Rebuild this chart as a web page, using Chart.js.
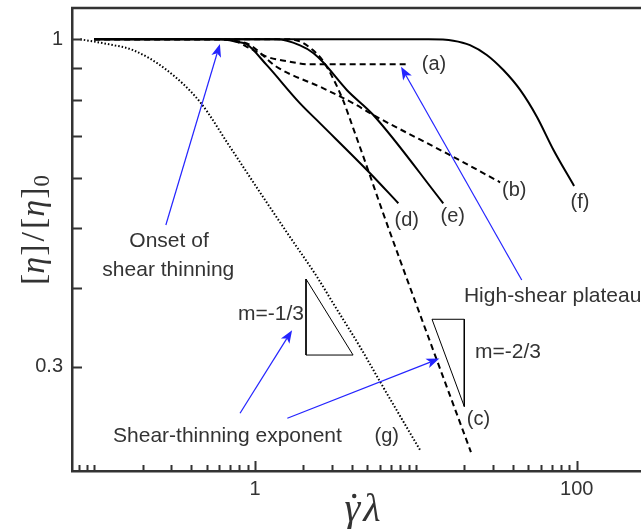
<!DOCTYPE html>
<html>
<head>
<meta charset="utf-8">
<script src="https://cdn.jsdelivr.net/npm/chart.js@4"></script>
<style>
  html, body { margin: 0; padding: 0; background: #fff; overflow: hidden; }
  canvas { display: block; }
</style>
</head>
<body>
<canvas id="chart" width="641" height="529"></canvas>
<script>
// Axis ranges (log-log, plot is cropped on the right)
const xRange = [0.0728, 251];
const yRange = [0.2043, 1.122];

// Tick marks and the few that carry a label
const xTickValues = [0.08, 0.09, 0.1, 0.2, 0.3, 0.4, 0.5, 0.6, 0.7, 0.8, 0.9, 1,
    2, 3, 4, 5, 6, 7, 8, 9, 10, 20, 30, 40, 50, 60, 70, 80, 90, 100];
const xTickLabels = { 1: '1', 100: '100' };
const yTickValues = [0.3, 0.4, 0.5, 0.6, 0.7, 0.8, 0.9, 1];
const yTickLabels = { 1: '1', 0.3: '0.3' };

// Curves: gamma-dot*lambda vs [eta]/[eta]0
const aX = [0.1, 0.605, 0.769, 0.931, 1.18, 1.57, 2.20, 8.82];
const aY = [1, 1, 0.991, 0.967, 0.938, 0.923, 0.912, 0.912];
const bX = [0.1, 0.605, 0.80, 0.931, 1.36, 2.66, 4.09, 5.44, 16.3, 33.4];
const bY = [1, 1, 0.992, 0.979, 0.904, 0.835, 0.790, 0.757, 0.653, 0.591];
const cX = [0.1, 1.65, 1.905, 2.29, 2.65, 3.05, 3.52, 4.07, 4.97, 6.25, 7.97, 13.15, 22.0];
const cY = [1, 1, 0.992, 0.961, 0.923, 0.867, 0.800, 0.722, 0.625, 0.528, 0.444, 0.313, 0.219];
const dX = [0.1, 0.605, 0.769, 0.888, 1.18, 1.905, 2.54, 5.19, 7.78];
const dY = [1, 1, 0.991, 0.982, 0.910, 0.790, 0.734, 0.611, 0.547];
const eX = [0.1, 1.36, 1.905, 2.30, 2.66, 3.72, 5.44, 14.8];
const eY = [1, 1, 0.978, 0.951, 0.918, 0.830, 0.757, 0.547];
const fX = [0.1, 12, 17.1, 21.7, 27.6, 35.0, 44.5, 56.5, 71.6, 96.3];
const fY = [1, 1, 0.995, 0.979, 0.944, 0.893, 0.830, 0.752, 0.666, 0.583];
const gX = [0.082, 0.1255, 0.1744, 0.2825, 0.455, 0.699, 1.121, 1.651, 2.429, 3.054, 4.496, 6.249, 10.61];
const gY = [1, 0.981, 0.961, 0.893, 0.794, 0.673, 0.560, 0.483, 0.4173, 0.379, 0.3225, 0.2784, 0.2208];

// Slope triangles
const tri1X = [2.075, 2.075, 4.07, 2.075];
const tri1Y = [0.414, 0.313, 0.313, 0.414];
const tri2X = [12.6, 20.0, 20.0, 12.6];
const tri2Y = [0.357, 0.357, 0.259, 0.357];

// Blue arrows (tail -> head)
const arrowFromX = [0.279, 45.5, 0.807, 1.588];
const arrowFromY = [0.505, 0.4125, 0.2527, 0.248];
const arrowToX = [0.605, 8.09, 1.70, 14.0];
const arrowToY = [0.983, 0.904, 0.343, 0.309];

// Curve labels
const curveNames = ['(a)', '(b)', '(c)', '(d)', '(e)', '(f)', '(g)'];
const curveNameX = [12.97, 40.9, 24.5, 8.77, 16.95, 104.8, 6.59];
const curveNameY = [0.910, 0.574, 0.2465, 0.514, 0.521, 0.548, 0.2318];

// Notes
const noteTexts = ['Onset of', 'shear thinning', 'm=-1/3', 'm=-2/3', 'High-shear plateau', 'Shear-thinning exponent'];
const noteX = [0.292, 0.289, 1.257, 37.4, 19.9, 0.131];
const noteY = [0.475, 0.428, 0.364, 0.3167, 0.388, 0.2324];

const INK = '#333';
const BLUE = '#2424ff';
const SANS = '"Liberation Sans", Arial, Helvetica, sans-serif';
const SERIF = '"Liberation Serif", "DejaVu Serif", serif';

function pts(xs, ys) {
    return xs.map((x, i) => ({ x: x, y: ys[i] }));
}

function curve(xs, ys, dash, width) {
    return {
        data: pts(xs, ys),
        borderColor: '#000',
        borderWidth: width || 2,
        borderDash: dash || [],
        cubicInterpolationMode: 'monotone',
        pointRadius: 0,
        fill: false
    };
}

function triangle(xs, ys) {
    return {
        data: pts(xs, ys),
        borderColor: '#000',
        borderWidth: 1,
        tension: 0,
        pointRadius: 0,
        fill: false
    };
}

function near(v, table) {
    for (const k in table) {
        if (Math.abs(v - Number(k)) < 1e-6 * Number(k)) return table[k];
    }
    return '';
}

// Inward ticks, top frame, annotations and axis titles
const decorPlugin = {
    id: 'decor',
    afterDraw(chart) {
        const ctx = chart.ctx;
        const area = chart.chartArea;
        const xs = chart.scales.x;
        const ys = chart.scales.y;
        ctx.save();

        // top frame
        ctx.strokeStyle = INK;
        ctx.lineWidth = 2.5;
        ctx.beginPath();
        ctx.moveTo(area.left - 1, area.top);
        ctx.lineTo(area.right, area.top);
        ctx.stroke();

        // ticks pointing into the plot
        ctx.lineWidth = 2;
        ctx.beginPath();
        xTickValues.forEach(v => {
            const px = Math.round(xs.getPixelForValue(v)) + 0.5;
            const len = near(v, xTickLabels) ? 10 : 6;
            ctx.moveTo(px, area.bottom);
            ctx.lineTo(px, area.bottom - len);
        });
        yTickValues.forEach(v => {
            const py = Math.round(ys.getPixelForValue(v)) + 0.5;
            ctx.moveTo(area.left, py);
            ctx.lineTo(area.left + 10, py);
        });
        ctx.stroke();

        // blue arrows
        ctx.strokeStyle = BLUE;
        ctx.fillStyle = BLUE;
        ctx.lineWidth = 1.2;
        arrowFromX.forEach((x0, i) => {
            const x1 = xs.getPixelForValue(x0);
            const y1 = ys.getPixelForValue(arrowFromY[i]);
            const x2 = xs.getPixelForValue(arrowToX[i]);
            const y2 = ys.getPixelForValue(arrowToY[i]);
            const ang = Math.atan2(y2 - y1, x2 - x1);
            const L = 13, W = 5;
            const bx = x2 - Math.cos(ang) * L * 0.75;
            const by = y2 - Math.sin(ang) * L * 0.75;
            ctx.beginPath();
            ctx.moveTo(x1, y1);
            ctx.lineTo(bx, by);
            ctx.stroke();
            ctx.beginPath();
            ctx.moveTo(x2, y2);
            ctx.lineTo(x2 - Math.cos(ang) * L + Math.sin(ang) * W, y2 - Math.sin(ang) * L - Math.cos(ang) * W);
            ctx.lineTo(bx, by);
            ctx.lineTo(x2 - Math.cos(ang) * L - Math.sin(ang) * W, y2 - Math.sin(ang) * L + Math.cos(ang) * W);
            ctx.closePath();
            ctx.fill();
        });

        // curve labels
        ctx.fillStyle = INK;
        ctx.textBaseline = 'middle';
        ctx.textAlign = 'center';
        ctx.font = '20px ' + SANS;
        curveNames.forEach((t, i) => {
            ctx.fillText(t, xs.getPixelForValue(curveNameX[i]), ys.getPixelForValue(curveNameY[i]));
        });

        // notes
        ctx.font = '21px ' + SANS;
        noteTexts.forEach((t, i) => {
            ctx.textAlign = i >= 4 ? 'left' : 'center';
            ctx.fillText(t, xs.getPixelForValue(noteX[i]), ys.getPixelForValue(noteY[i]));
        });

        // x title: gamma-dot lambda
        ctx.textBaseline = 'alphabetic';
        ctx.textAlign = 'left';
        ctx.font = 'italic 40px ' + SERIF;
        const g = '\u03B3', l = '\u03BB';
        const gw = ctx.measureText(g).width;
        const lw = ctx.measureText(l).width;
        const tx = (area.left + area.right) / 2 + 6 - (gw + lw + 3) / 2;
        const base = 521;
        ctx.fillText(g, tx, base);
        ctx.fillText(l, tx + gw + 3, base);
        ctx.beginPath();
        ctx.arc(tx + gw * 0.62, base - 25, 2.2, 0, Math.PI * 2);
        ctx.fill();

        // y title: [eta]/[eta]0
        ctx.save();
        ctx.translate(44, 230);
        ctx.rotate(-Math.PI / 2);
        const parts = [
            ['[', '34px ' + SERIF, 0, 0],
            ['\u03B7', 'italic 34px ' + SERIF, 0, 1],
            [']', '34px ' + SERIF, 0, 3],
            ['/', '34px ' + SERIF, 0, 3],
            ['[', '34px ' + SERIF, 0, 1],
            ['\u03B7', 'italic 34px ' + SERIF, 0, 1],
            [']', '34px ' + SERIF, 0, 1],
            ['0', '23px ' + SERIF, 5, 0]
        ];
        let total = 0;
        parts.forEach(p => { ctx.font = p[1]; total += ctx.measureText(p[0]).width + p[3]; });
        let cx = -total / 2;
        parts.forEach(p => {
            ctx.font = p[1];
            ctx.fillText(p[0], cx, p[2]);
            cx += ctx.measureText(p[0]).width + p[3];
        });
        ctx.restore();

        ctx.restore();
    }
};

const ctx = document.getElementById('chart').getContext('2d');
new Chart(ctx, {
    type: 'line',
    data: {
        datasets: [
            curve(aX, aY, [6, 4]),
            curve(bX, bY, [6, 4]),
            curve(cX, cY, [6, 4]),
            curve(dX, dY),
            curve(eX, eY),
            curve(fX, fY),
            curve(gX, gY, [1.5, 2], 2),
            triangle(tri1X, tri1Y),
            triangle(tri2X, tri2Y)
        ]
    },
    options: {
        responsive: false,
        animation: false,
        layout: { padding: { top: 8, left: 0, right: 0, bottom: 0 } },
        plugins: {
            legend: { display: false },
            tooltip: { enabled: false }
        },
        scales: {
            x: {
                type: 'logarithmic',
                min: xRange[0],
                max: xRange[1],
                afterFit: s => {
                    s.height = 58;
                    s.paddingLeft = 0;
                    s.paddingRight = 0;
                },
                afterBuildTicks: s => { s.ticks = xTickValues.map(v => ({ value: v })); },
                grid: { display: false, drawTicks: false },
                border: { display: true, width: 2.5, color: INK },
                ticks: {
                    autoSkip: false,
                    maxRotation: 0,
                    padding: 6,
                    color: INK,
                    font: { family: SANS, size: 20 },
                    callback: v => near(v, xTickLabels)
                }
            },
            y: {
                type: 'logarithmic',
                min: yRange[0],
                max: yRange[1],
                afterFit: s => {
                    s.width = 72;
                    s.paddingTop = 0;
                    s.paddingBottom = 0;
                },
                afterBuildTicks: s => { s.ticks = yTickValues.map(v => ({ value: v })); },
                grid: { display: false, drawTicks: false },
                border: { display: true, width: 2.5, color: INK },
                ticks: {
                    autoSkip: false,
                    padding: 9,
                    color: INK,
                    font: { family: SANS, size: 20 },
                    callback: v => near(v, yTickLabels)
                }
            }
        }
    },
    plugins: [decorPlugin]
});
</script>
</body>
</html>
